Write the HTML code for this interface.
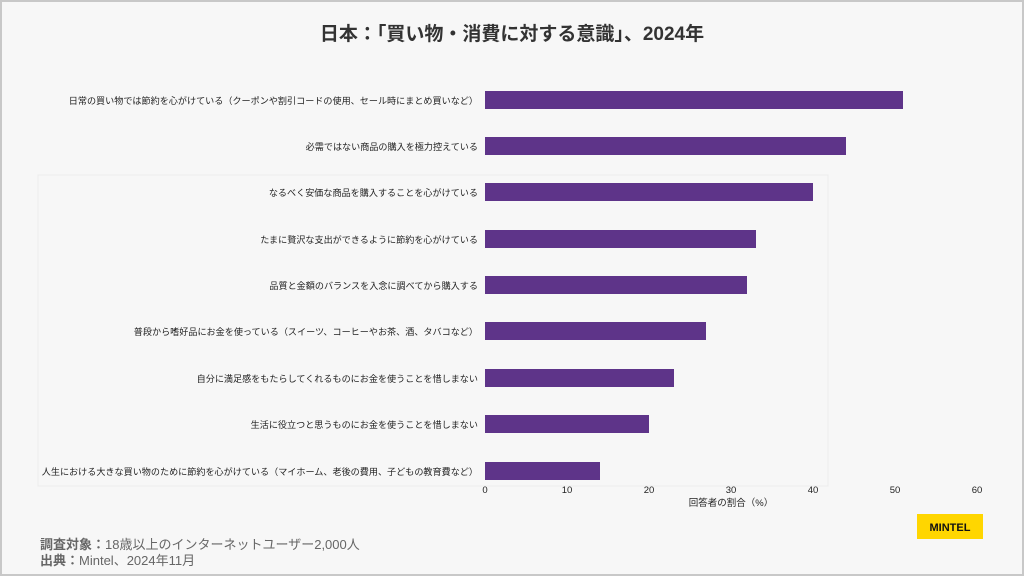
<!DOCTYPE html>
<html><head><meta charset="utf-8"><style>
html,body{margin:0;padding:0;background:#f7f7f7}
svg{display:block}
text{font-family:"Liberation Sans","Noto Sans CJK JP",sans-serif}
</style></head><body>
<svg width="1024" height="576" viewBox="0 0 1024 576" xmlns="http://www.w3.org/2000/svg">
<rect x="1" y="1" width="1022" height="574" fill="#f7f7f7" stroke="#c8c8c8" stroke-width="2"/>
<text x="512" y="40" text-anchor="middle" font-size="19" font-weight="bold" fill="#333">日本：「買い物・消費に対する意識」、2024年</text>
<rect x="38" y="175" width="790" height="311" fill="none" stroke="#ececec" stroke-width="1"/>
<g fill="#5e3489">
<rect x="485" y="91" width="418" height="18"/>
<rect x="485" y="137" width="361" height="18"/>
<rect x="485" y="183" width="328" height="18"/>
<rect x="485" y="230" width="271" height="18"/>
<rect x="485" y="276" width="262" height="18"/>
<rect x="485" y="322" width="221" height="18"/>
<rect x="485" y="369" width="189" height="18"/>
<rect x="485" y="415" width="164" height="18"/>
<rect x="485" y="462" width="115" height="18"/>
</g>
<g font-size="9.1" fill="#222" text-anchor="end">
<text x="478" y="104">日常の買い物では節約を心がけている（クーポンや割引コードの使用、セール時にまとめ買いなど）</text>
<text x="478" y="150">必需ではない商品の購入を極力控えている</text>
<text x="478" y="196">なるべく安価な商品を購入することを心がけている</text>
<text x="478" y="243">たまに贅沢な支出ができるように節約を心がけている</text>
<text x="478" y="289">品質と金額のバランスを入念に調べてから購入する</text>
<text x="478" y="335">普段から嗜好品にお金を使っている（スイーツ、コーヒーやお茶、酒、タバコなど）</text>
<text x="478" y="382">自分に満足感をもたらしてくれるものにお金を使うことを惜しまない</text>
<text x="478" y="428">生活に役立つと思うものにお金を使うことを惜しまない</text>
<text x="478" y="475">人生における大きな買い物のために節約を心がけている（マイホーム、老後の費用、子どもの教育費など）</text>
</g>
<g font-size="9.5" fill="#222" text-anchor="middle">
<text x="485" y="493">0</text><text x="567" y="493">10</text><text x="649" y="493">20</text>
<text x="731" y="493">30</text><text x="813" y="493">40</text><text x="895" y="493">50</text><text x="977" y="493">60</text>
<text x="731" y="506">回答者の割合（%）</text>
</g>
<rect x="917" y="514" width="66" height="25" fill="#ffd600"/>
<text x="950" y="531" text-anchor="middle" font-size="11" font-weight="bold" fill="#111">MINTEL</text>
<text x="40" y="549" font-size="13" fill="#666"><tspan font-weight="bold">調査対象：</tspan>18歳以上のインターネットユーザー2,000人</text>
<text x="40" y="565" font-size="13" fill="#666"><tspan font-weight="bold">出典：</tspan>Mintel、2024年11月</text>
</svg>
</body></html>
